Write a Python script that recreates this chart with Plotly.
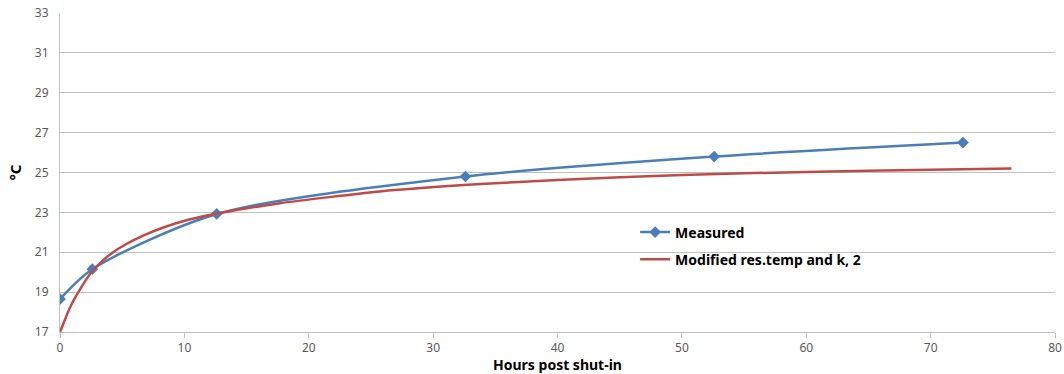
import plotly.graph_objects as go

# Measured data
meas_x = [0, 2.6, 12.6, 32.6, 52.6, 72.6]
meas_y = [18.65, 20.15, 22.92, 24.8, 25.8, 26.5]

# Model curve
model_x = [0, 0.46, 0.86, 1.26, 1.67, 2.07, 2.6, 3.41, 4.22, 5.3, 6.64, 8.25, 10.4, 12.55,
           17.7, 25.7, 33.8, 40, 50, 60, 70, 76.5]
model_y = [17.0, 17.72, 18.3, 18.77, 19.2, 19.6, 20.06, 20.57, 20.98, 21.4, 21.82, 22.23, 22.64, 22.93,
           23.46, 24.05, 24.42, 24.62, 24.88, 25.03, 25.14, 25.2]

x_ticks = [0, 10, 20, 30, 40, 50, 60, 70, 80]
y_ticks = [17, 19, 21, 23, 25, 27, 29, 31, 33]

fig = go.Figure()
fig.add_trace(go.Scatter(
    x=meas_x, y=meas_y, name="Measured", mode="lines+markers",
    line=dict(color="#4a7ebb", width=2.5, shape="spline", smoothing=0.8),
    marker=dict(symbol="diamond", size=9, color="#4a7ebb"),
    legendgroup="a",
))
fig.add_trace(go.Scatter(
    x=model_x, y=model_y, name="Modified res.temp and k, 2", mode="lines",
    line=dict(color="#be4b48", width=2.5, shape="spline", smoothing=0.5),
    legendgroup="b",
))

grid = "#c0c0c0"
fig.update_layout(
    width=1064, height=374,
    margin=dict(l=60, r=9, t=13, b=42),
    paper_bgcolor="white", plot_bgcolor="white",
    font=dict(family="Noto Sans", size=12, color="#595959"),
    showlegend=True,
    legend=dict(
        x=0.578, y=0.362, xanchor="left", yanchor="top",
        bgcolor="rgba(0,0,0,0)",
        font=dict(family="Noto Sans", size=14, color="black", weight="bold"),
        tracegroupgap=6, traceorder="grouped",
    ),
    xaxis=dict(
        range=[0, 80], tickvals=x_ticks, showgrid=False, zeroline=False,
        showline=True, linecolor=grid, linewidth=1, automargin=False,
        ticks="outside", ticklen=5, tickcolor=grid,
        title=dict(text="Hours post shut-in", standoff=0,
                   font=dict(family="Noto Sans", size=14, color="black", weight="bold")),
        tickfont=dict(size=12, color="#595959"),
    ),
    yaxis=dict(
        range=[17, 33], tickvals=y_ticks, showgrid=True, gridcolor=grid, gridwidth=1,
        zeroline=False, showline=True, linecolor=grid, linewidth=1, automargin=False,
        ticks="", ticklabelstandoff=8,
        title=dict(text="°C", standoff=9,
                   font=dict(family="Noto Sans", size=15, color="black", weight="bold")),
        tickfont=dict(size=12, color="#595959"),
    ),
)
fig.write_html("out.html", config={"displayModeBar": False},
               post_script="document.body.style.margin='0';")
